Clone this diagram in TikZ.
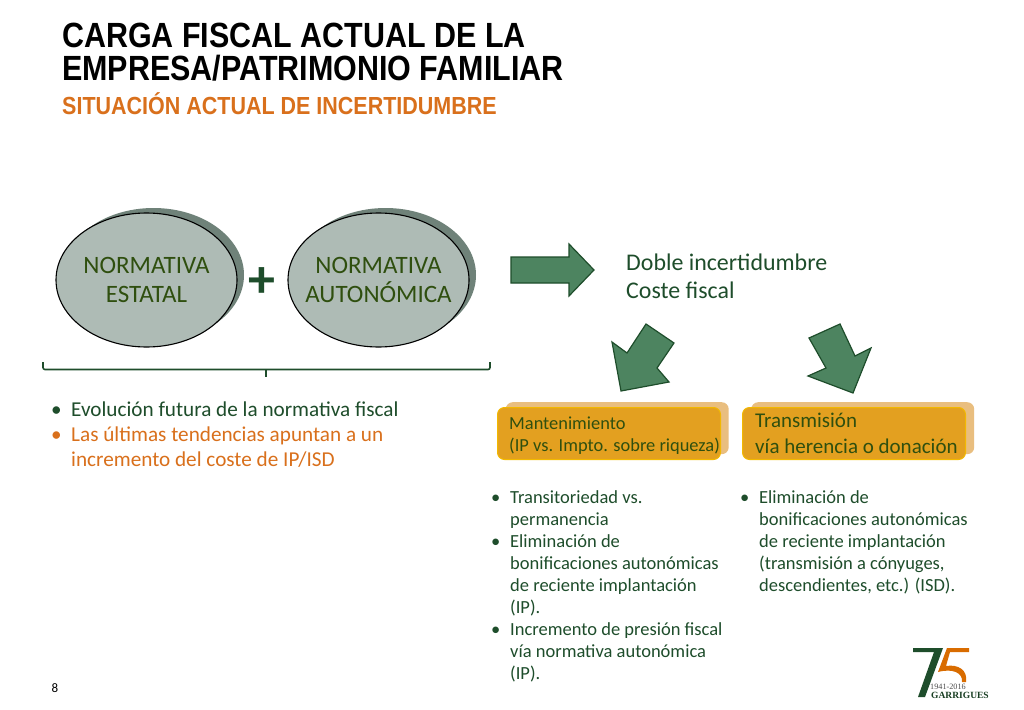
\documentclass[tikz,border=0pt]{standalone}
\usepackage{fontspec}
\setmainfont{Carlito}
\newfontfamily\titlefont[FakeStretch=0.87]{Liberation Sans}
\newfontfamily\logofont{Liberation Serif}
\usetikzlibrary{shapes.geometric}
\definecolor{darkgreen}{HTML}{1E4D2B}
\definecolor{leafgreen}{HTML}{2F4F0F}
\definecolor{arrowgreen}{HTML}{4D8460}
\definecolor{ovalgrey}{HTML}{AEBBB5}
\definecolor{ovalshadow}{HTML}{6F8279}
\definecolor{ochre}{HTML}{E3A020}
\definecolor{ochrelight}{HTML}{E9BE7F}
\definecolor{ochreline}{HTML}{F2B800}
\definecolor{rust}{HTML}{D9701C}
\tikzset{
  oval/.style={ellipse,draw=black,line width=1.1pt,fill=ovalgrey,minimum width=181pt,minimum height=134pt,inner sep=0pt},
  ovalback/.style={ellipse,fill=ovalshadow,minimum width=181pt,minimum height=134pt,inner sep=0pt},
  ovaltext/.style={align=center,text=leafgreen,font=\fontsize{25}{28.5}\selectfont},
  blockarrow/.style={draw=darkgreen,line width=1.2pt,fill=arrowgreen,line join=miter},
  panel/.style={draw=ochreline,line width=1pt,fill=ochre,rounded corners=7pt,minimum width=223pt,minimum height=52pt,inner sep=0pt},
  panelback/.style={fill=ochrelight,rounded corners=7pt,minimum width=223pt,minimum height=52pt,inner sep=0pt},
  listline/.style={anchor=north west,align=left,inner sep=0pt,text=darkgreen,font=\fontsize{18.5}{22}\selectfont},
  bigline/.style={anchor=north west,align=left,inner sep=0pt,font=\fontsize{21.2}{25}\selectfont}
}
\begin{document}
\begin{tikzpicture}[x=1pt,y=-1pt]
\useasboundingbox[fill=white] (0,0) rectangle (1024,709);

% title
\node[anchor=base west,inner sep=0pt,font=\titlefont\bfseries\fontsize{35}{35}\selectfont] (title1) at (62,48) {CARGA FISCAL ACTUAL DE LA};
\node[anchor=base west,inner sep=0pt,font=\titlefont\bfseries\fontsize{35}{35}\selectfont] (title2) at (62,81) {EMPRESA/PATRIMONIO FAMILIAR};
\node[anchor=base west,inner sep=0pt,text=rust,font=\titlefont\bfseries\fontsize{24.7}{24.7}\selectfont] (subtitle) at (62,114) {SITUACIÓN ACTUAL DE INCERTIDUMBRE};

% ovals
\node[ovalback] (estatalback) at (153.5,275) {};
\node[oval] (estatal) at (146.5,280) {};
\node[ovaltext] at (146.5,280) {NORMATIVA\\ESTATAL};
\node[ovalback] (autonback) at (385.5,275) {};
\node[oval] (auton) at (378.5,280) {};
\node[ovaltext] at (378.5,280) {NORMATIVA\\AUTONÓMICA};
\node[text=darkgreen,inner sep=0pt,font=\bfseries\fontsize{54}{54}\selectfont] (plus) at (262,283) {+};

% brace
\draw[darkgreen,line width=1.6pt,rounded corners=2pt] (43,362) -- (43,369.5) -- (490,369.5) -- (490,362);
\draw[darkgreen,line width=1.6pt] (266,369.5) -- (266,377);

% arrows
\draw[blockarrow] (511,257) -- (569,257) -- (569,244) -- (594,270) -- (569,296) -- (569,283) -- (511,283) -- cycle;
\draw[blockarrow] (646,324) -- (674,343) -- (657,368) -- (669,382) -- (621,391) -- (612,342) -- (627,353) -- cycle;
\draw[blockarrow] (840,324) -- (855,356) -- (871,348) -- (853,393) -- (808,376) -- (826,368) -- (809,338) -- cycle;

\node[bigline,text=darkgreen,font=\fontsize{23.9}{28}\selectfont] (doble) at (626,254) {Doble incertidumbre\\Coste fiscal};

% boxes
\node[panelback,anchor=north west] (mantback) at (505.5,402) {};
\node[panel,anchor=north west] (mant) at (497,407) {};
\node[anchor=north west,align=left,inner sep=0pt,text=leafgreen,font=\fontsize{18.4}{22}\selectfont] (manttext) at (509,416.5) {Mantenimiento\\(IP vs. Impto. sobre riqueza)};
\node[panelback,anchor=north west] (transback) at (751,402) {};
\node[panel,anchor=north west] (trans) at (742,407) {};
\node[anchor=north west,align=left,inner sep=0pt,text=leafgreen,font=\fontsize{21}{26}\selectfont] (transtext) at (755,412.5) {Transmisión\\vía herencia o donación};

% left list
\node[bigline,text=darkgreen] (evol1) at (51,407) {•};
\node[bigline,text=darkgreen] (evol) at (71,402) {Evolución futura de la normativa fiscal};
\node[bigline,text=rust] (ult1) at (51,432) {•};
\node[bigline,text=rust] (ult) at (71,427) {Las últimas tendencias apuntan a un\\incremento del coste de IP/ISD};

% lists below the boxes
\node[listline] (a1) at (491,495) {•};
\node[listline] (a) at (510,490) {Transitoriedad vs.\\permanencia};
\node[listline] (b1) at (491,539) {•};
\node[listline] (b) at (510,534) {Eliminación de\\bonificaciones autonómicas\\de reciente implantación\\(IP).};
\node[listline] (c1) at (491,627) {•};
\node[listline] (c) at (510,622) {Incremento de presión fiscal\\vía normativa autonómica\\(IP).};
\node[listline] (d1) at (740,495) {•};
\node[listline] (d) at (759,490) {Eliminación de\\bonificaciones autonómicas\\de reciente implantación\\(transmisión a cónyuges,\\descendientes, etc.) (ISD).};

% page number
\node[anchor=base,inner sep=0pt,font=\fontsize{13}{13}\selectfont] (page) at (55,692) {8};

% logo
\fill[darkgreen] (913,648) -- (943,648) -- (925,697) -- (918,697) -- (934,652) -- (913,652) -- cycle;
\fill[orange!85!black] (947,648) -- (969,648) -- (969,652) -- (950,652) -- (946,666) .. controls (958,664) and (968,670) .. (966,682) -- (962,682) .. controls (963,673) and (953,668) .. (938,672) -- cycle;
\node[anchor=base west,inner sep=0pt,text=black!70,font=\logofont\fontsize{8.2}{8.2}\selectfont] (years) at (930,689) {1941-2016};
\node[anchor=base west,inner sep=0pt,text=darkgreen!80!black,font=\logofont\bfseries\fontsize{9.5}{9.5}\selectfont] (firm) at (931,698) {GARRIGUES};
\end{tikzpicture}
\end{document}
